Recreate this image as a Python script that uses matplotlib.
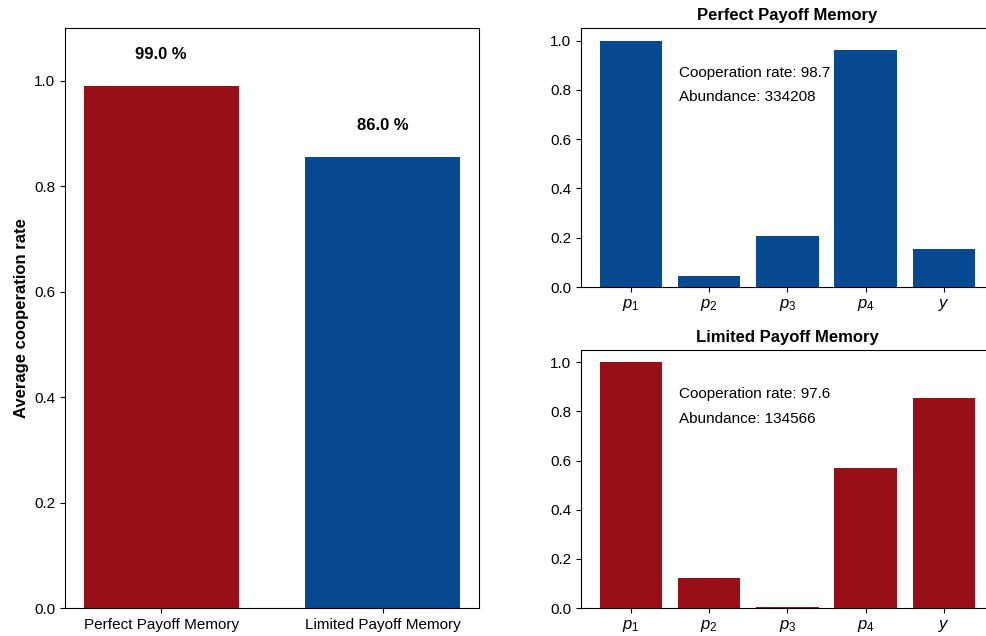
import matplotlib.pyplot as plt

plt.rcParams['font.family'] = ['Liberation Sans', 'DejaVu Sans']
plt.rcParams['mathtext.fontset'] = 'custom'
plt.rcParams['mathtext.rm'] = 'Liberation Sans'
plt.rcParams['mathtext.it'] = 'Liberation Sans:italic'

red = '#990f17'
blue = '#084a91'

# left panel
groups = ['Perfect Payoff Memory', 'Limited Payoff Memory']
avg_coop = [0.99, 0.856]
avg_labels = ['99.0 %', '86.0 %']

# right panels
params = ['$p_1$', '$p_2$', '$p_3$', '$p_4$', '$y$']
perfect_vals = [1.0, 0.045, 0.205, 0.96, 0.153]
limited_vals = [1.0, 0.123, 0.005, 0.569, 0.854]
perfect_text = ['Cooperation rate: 98.7', 'Abundance: 334208']
limited_text = ['Cooperation rate: 97.6', 'Abundance: 134566']

fig = plt.figure(figsize=(9.86, 6.36), dpi=100)

ax = fig.add_axes([0.0659, 0.044, 0.42, 0.912])
ax.bar(range(2), avg_coop, width=0.7, color=[red, blue])
for i in range(2):
    ax.text(i, avg_coop[i] + 0.06, avg_labels[i], ha='center', va='center',
            fontsize=12, fontweight='bold')
ax.set_xticks(range(2))
ax.set_xticklabels(groups, fontsize=11)
ax.set_ylim(0, 1.1)
ax.set_yticks([0, 0.2, 0.4, 0.6, 0.8, 1.0])
ax.tick_params(axis='y', labelsize=11)
ax.set_ylabel('Average cooperation rate', fontsize=12, fontweight='bold')

def panel(rect, vals, color, title, lines):
    a = fig.add_axes(rect)
    for j, line in enumerate(lines):
        a.text(0.61, 0.87 - j * 0.1, line, fontsize=11, va='center', zorder=0)
    a.bar(range(len(vals)), vals, width=0.8, color=color, zorder=2)
    a.set_xticks(range(len(vals)))
    a.set_xticklabels(params, fontsize=12)
    a.set_yticks([0, 0.2, 0.4, 0.6, 0.8, 1.0])
    a.tick_params(axis='y', labelsize=11)
    a.set_ylim(0, 1.05)
    a.set_title(title, fontsize=12, fontweight='bold')
    return a

panel([0.589, 0.5487, 0.419, 0.407], perfect_vals, blue, 'Perfect Payoff Memory', perfect_text)
panel([0.589, 0.044, 0.419, 0.4057], limited_vals, red, 'Limited Payoff Memory', limited_text)

fig.savefig('out.png', dpi=100)
